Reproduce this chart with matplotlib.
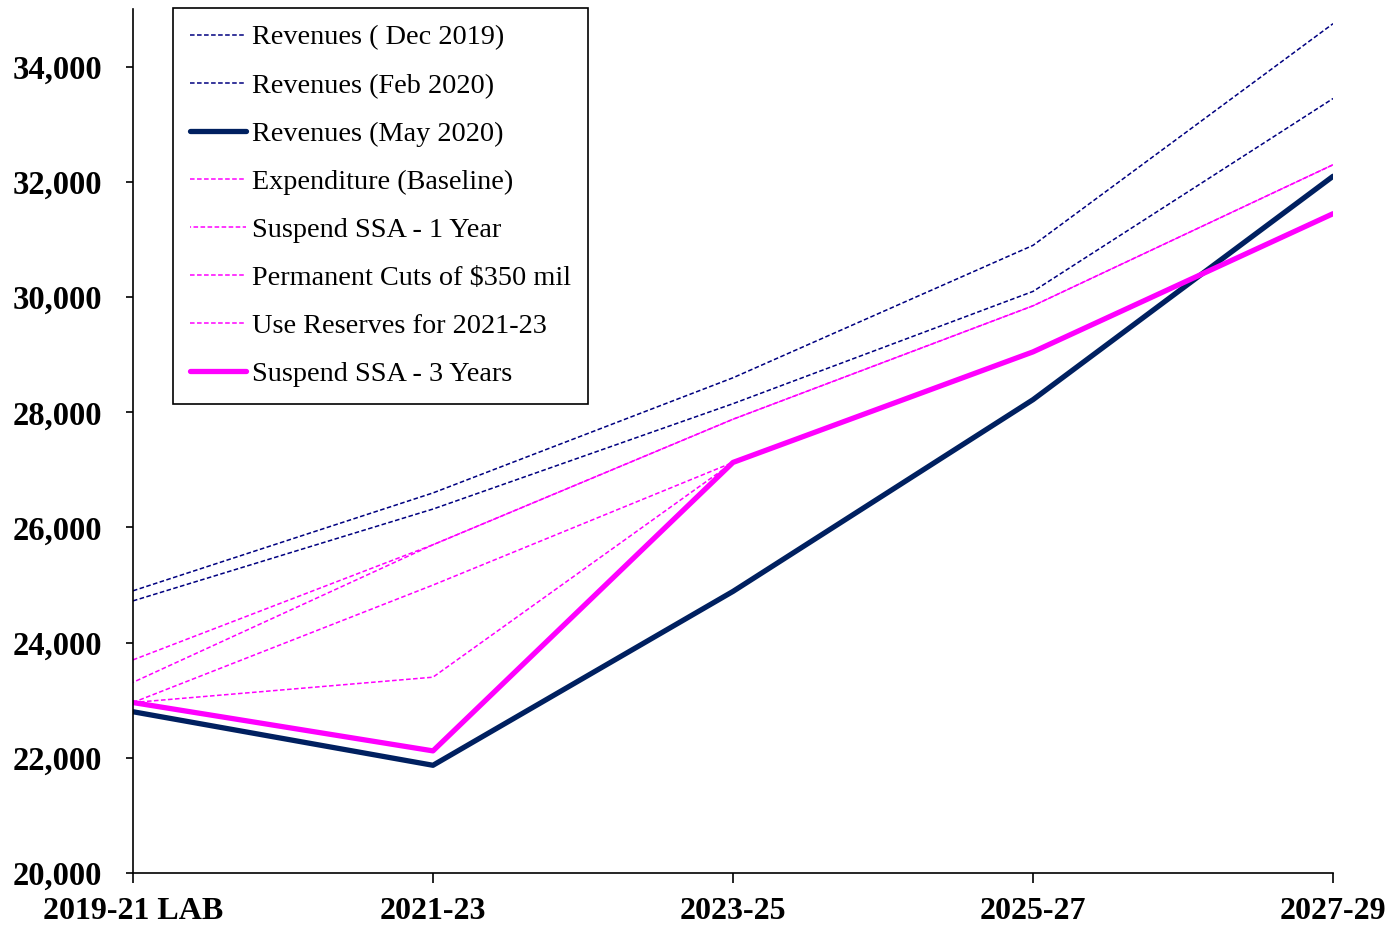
import matplotlib
matplotlib.use("Agg")
import matplotlib.pyplot as plt
import numpy as np

# biennium categories
periods = ["2019-21 LAB", "2021-23", "2023-25", "2025-27", "2027-29"]

# revenue forecasts ($ millions)
rev_dec_2019 = [24900, 26600, 28600, 30900, 34750]
rev_feb_2020 = [24725, 26320, 28150, 30100, 33450]
rev_may_2020 = [22800, 21870, 24890, 28220, 32100]

# expenditure scenarios ($ millions)
exp_baseline = [23700, 25700, 27880, 29850, 32300]
suspend_1yr = [23310, 25700, 27880, 29850, 32300]
perm_cuts = [22960, 25000, 27130, 29050, 31450]
use_reserves = [22960, 23400, 27130, 29050, 31450]
suspend_3yr = [22960, 22120, 27130, 29050, 31450]

navy = "#002060"
dotnavy = "#000080"
magenta = "#FF00FF"

plt.rcParams["font.family"] = ["Liberation Serif", "DejaVu Serif"]

fig = plt.figure(figsize=(13.95, 9.27), dpi=100)
ax = fig.add_axes([0.0953, 0.0583, 0.8603, 0.9317])

x = np.arange(len(periods))
dash = (0, (3, 1.6))

ax.plot(x, rev_dec_2019, color=dotnavy, lw=1.1, linestyle=dash, label="Revenues ( Dec 2019)")
ax.plot(x, rev_feb_2020, color=dotnavy, lw=1.1, linestyle=dash, label="Revenues (Feb 2020)")
ax.plot(x, rev_may_2020, color=navy, lw=3.8, solid_capstyle="round", label="Revenues (May 2020)")
ax.plot(x, exp_baseline, color=magenta, lw=1.1, linestyle=dash, label="Expenditure (Baseline)")
ax.plot(x, suspend_1yr, color=magenta, lw=1.1, linestyle=(2.3, (3, 1.6)), label="Suspend SSA - 1 Year")
ax.plot(x, perm_cuts, color=magenta, lw=1.1, linestyle=dash, label="Permanent Cuts of $350 mil")
ax.plot(x, use_reserves, color=magenta, lw=1.1, linestyle=dash, label="Use Reserves for 2021-23")
ax.plot(x, suspend_3yr, color=magenta, lw=3.8, solid_capstyle="round", label="Suspend SSA - 3 Years")

ax.set_xlim(0, len(periods) - 1)
ax.set_ylim(20000, 35000)
ax.set_xticks(x)
ax.set_xticklabels(periods, fontsize=23, fontweight="bold")
yt = np.arange(20000, 34001, 2000)
ax.set_yticks(yt)
ax.set_yticklabels([f"{v:,}" for v in yt], fontsize=23.5, fontweight="bold")

ax.spines["top"].set_visible(False)
ax.spines["right"].set_visible(False)
ax.spines["left"].set_linewidth(1.2)
ax.spines["bottom"].set_linewidth(1.2)
ax.tick_params(axis="y", direction="out", length=5, width=1.2, pad=17)
ax.tick_params(axis="x", direction="out", length=7, width=1.2, pad=10.5)

leg = ax.legend(loc="upper left", bbox_to_anchor=(0.124, 0.9914), bbox_transform=fig.transFigure,
                fontsize=20.3, frameon=True, fancybox=False, framealpha=1,
                edgecolor="black", handlelength=2.0, handletextpad=0.2,
                labelspacing=0.79, borderpad=0.6, borderaxespad=0)
leg.get_frame().set_linewidth(1.2)

fig.savefig("out.png", dpi=100)
